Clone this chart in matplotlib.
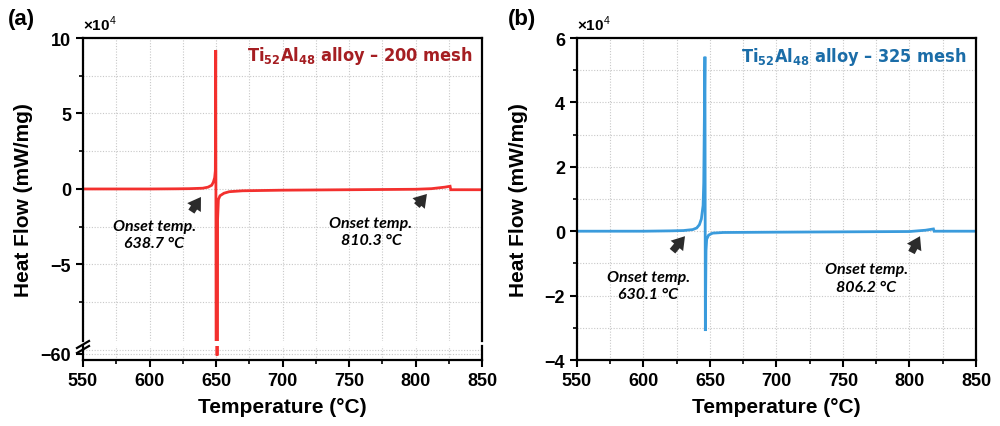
import matplotlib
matplotlib.use("Agg")
import matplotlib.pyplot as plt
from matplotlib.ticker import MultipleLocator, FixedLocator
from matplotlib.lines import Line2D
from matplotlib import font_manager as fm

# ---------------- data (heat flow in units of 1e4 mW/mg) ----------------
temp_a = [550, 580, 600, 620, 630, 640, 644, 646.8, 648.0, 649.0, 649.5, 649.8, 650.8, 651.2, 651.8,
          653, 656, 660, 670, 700, 750, 800, 812, 818, 822, 826, 826.5, 850]
flow_a = [0.0, 0.0, 0.0, 0.01, 0.02, 0.05, 0.12, 0.25, 0.45, 0.75, 1.2, 9.2, -60.2, -2.0, -0.7,
          -0.45, -0.28, -0.18, -0.12, -0.08, -0.05, -0.02, 0.02, 0.08, 0.12, 0.18, -0.05, -0.05]

temp_b = [550, 580, 600, 620, 630, 637, 640, 642, 643.5, 644.8, 645.3, 646.2, 646.5, 647.0,
          647.5, 649, 652, 660, 700, 750, 800, 812, 818, 818.5, 850]
flow_b = [0.0, 0.0, 0.0, 0.01, 0.02, 0.05, 0.1, 0.2, 0.38, 0.8, 1.5, 5.42, -3.1, -0.6,
          -0.25, -0.12, -0.06, -0.04, -0.03, -0.02, -0.01, 0.03, 0.07, 0.0, 0.0]

xticks = [550, 600, 650, 700, 750, 800, 850]
yticks_a = [10, 5, 0, -5]
yminor_a = [7.5, 2.5, -2.5, -7.5]
yticks_a_low = [-60]
title_a = r"Ti$_{\mathbf{52}}$Al$_{\mathbf{48}}$ alloy – 200 mesh"
title_b = r"Ti$_{\mathbf{52}}$Al$_{\mathbf{48}}$ alloy – 325 mesh"
onset_a = ["Onset temp.\n638.7 °C", "Onset temp.\n810.3 °C"]
onset_b = ["Onset temp.\n630.1 °C", "Onset temp.\n806.2 °C"]

# ---------------- style ----------------
cond = [f for f in fm.fontManager.ttflist if 'Condensed' in f.fname or 'Narrow' in f.fname
        or f.stretch in ('condensed', 'semi-condensed', 'extra-condensed')]
TITLE_FAMILY = 'DejaVu Sans'
TITLE_STRETCH = 'normal'
for f in cond:
    if f.weight in ('bold', 700) or 'Bold' in f.fname:
        TITLE_FAMILY = f.name
        TITLE_STRETCH = f.stretch
        break

plt.rcParams['font.family'] = ['Liberation Sans', 'DejaVu Sans']
plt.rcParams['mathtext.fontset'] = 'custom'
plt.rcParams['mathtext.rm'] = 'Liberation Sans'
plt.rcParams['mathtext.bf'] = f'{TITLE_FAMILY}:weight=bold:stretch={TITLE_STRETCH}'
plt.rcParams['axes.unicode_minus'] = True

RED = '#F3302E'
BLUE = '#3A9BDC'
RED_T = '#A51E22'
BLUE_T = '#1B6DA8'
GRID = dict(color='#c8c8c8', linestyle=(0, (1, 1.5)), linewidth=0.8)

W, H = 1000, 427
fig = plt.figure(figsize=(10, 4.27), dpi=100)

def fx(px):
    return px / W

def fy(py):
    return 1 - py / H

def style_axis(ax, size=13):
    for s in ax.spines.values():
        s.set_linewidth(1.6)
    ax.tick_params(which='major', direction='out', length=5, width=1.5, labelsize=size)
    ax.tick_params(which='minor', direction='out', length=3, width=1.2)
    for lab in ax.get_xticklabels() + ax.get_yticklabels():
        lab.set_fontweight('bold')

title_kw = dict(ha='right', va='center', fontsize=13, fontweight='bold',
                family=TITLE_FAMILY, fontstretch=TITLE_STRETCH)
onset_kw = dict(ha='center', va='center', fontsize=11.5, style='italic', fontweight='bold',
                family=['Lato', 'DejaVu Sans'], linespacing=1.3)
arrow_kw = dict(arrowstyle='simple,head_width=0.9,head_length=0.7,tail_width=0.4',
                color='#2b2b2b', lw=0, shrinkA=0, shrinkB=0, mutation_scale=13)

# ---------------- panel (a): broken axis ----------------
L, R = 83, 482
ax_top = fig.add_axes([fx(L), fy(342), fx(R - L), (342 - 39) / H])
ax_bot = fig.add_axes([fx(L), fy(361), fx(R - L), (361 - 347) / H])

for ax in (ax_top, ax_bot):
    ax.plot(temp_a, flow_a, color=RED, lw=2.0, solid_joinstyle='miter')
    ax.set_xlim(550, 850)
    ax.xaxis.set_major_locator(FixedLocator(xticks))
    ax.xaxis.set_minor_locator(MultipleLocator(25))
    ax.grid(True, which='both', **GRID)
    ax.set_axisbelow(True)

ax_top.set_ylim(-10.07, 10)
ax_top.yaxis.set_major_locator(FixedLocator(yticks_a))
ax_top.yaxis.set_minor_locator(FixedLocator(yminor_a))
ax_top.spines['bottom'].set_visible(False)
ax_top.tick_params(axis='x', which='both', bottom=False, labelbottom=False)

ax_bot.set_ylim(-60.75, -59.0)
ax_bot.yaxis.set_major_locator(FixedLocator(yticks_a_low))
ax_bot.yaxis.set_minor_locator(FixedLocator([-59.5]))
ax_bot.tick_params(axis='y', which='minor', left=False)
ax_bot.spines['top'].set_visible(False)

style_axis(ax_top)
style_axis(ax_bot)

# break marks
for dy in (0, 5):
    fig.add_artist(Line2D([fx(77), fx(89)], [fy(349 + dy), fy(342 + dy)],
                          color='black', lw=1.6, transform=fig.transFigure))

ax_top.text(0.975, 0.944, title_a, transform=ax_top.transAxes, color=RED_T, **title_kw)
ax_top.text(603.4, -3.0, onset_a[0], **onset_kw)
ax_top.text(766.5, -2.8, onset_a[1], **onset_kw)
ax_top.annotate('', xy=(638.7, -0.53), xytext=(631.5, -1.5), arrowprops=arrow_kw)
ax_top.annotate('', xy=(808.6, -0.33), xytext=(801.0, -1.1), arrowprops=arrow_kw)

fig.text(fx(L), fy(34), r"×10$^{\mathrm{4}}$", ha='left', va='bottom', fontsize=11,
         fontweight='bold')
fig.text(fx(8), fy(19), "(a)", ha='left', va='center', fontsize=16, fontweight='bold')
fig.text(fx(24), fy(200), "Heat Flow (mW/mg)", rotation=90, ha='center', va='center',
         fontsize=15, fontweight='bold')
fig.text(fx((L + R) / 2), fy(408), "Temperature (°C)", ha='center', va='center',
         fontsize=15, fontweight='bold')

# ---------------- panel (b) ----------------
L2, R2 = 577, 976
axb = fig.add_axes([fx(L2), fy(361), fx(R2 - L2), (361 - 39) / H])
axb.plot(temp_b, flow_b, color=BLUE, lw=2.0, solid_joinstyle='miter')
axb.set_xlim(550, 850)
axb.set_ylim(-4, 6)
axb.xaxis.set_major_locator(FixedLocator(xticks))
axb.xaxis.set_minor_locator(MultipleLocator(25))
axb.yaxis.set_major_locator(MultipleLocator(2))
axb.yaxis.set_minor_locator(MultipleLocator(1))
axb.grid(True, which='both', **GRID)
axb.set_axisbelow(True)
style_axis(axb)

axb.text(0.977, 0.944, title_b, transform=axb.transAxes, color=BLUE_T, **title_kw)
axb.text(603.4, -1.68, onset_b[0], **onset_kw)
axb.text(767.3, -1.45, onset_b[1], **onset_kw)
axb.annotate('', xy=(631.2, -0.155), xytext=(621.8, -0.62), arrowprops=arrow_kw)
axb.annotate('', xy=(807.9, -0.155), xytext=(801.5, -0.66), arrowprops=arrow_kw)

fig.text(fx(L2), fy(34), r"×10$^{\mathrm{4}}$", ha='left', va='bottom', fontsize=11,
         fontweight='bold')
fig.text(fx(508), fy(19), "(b)", ha='left', va='center', fontsize=16, fontweight='bold')
fig.text(fx(518), fy(200), "Heat Flow (mW/mg)", rotation=90, ha='center', va='center',
         fontsize=15, fontweight='bold')
fig.text(fx((L2 + R2) / 2), fy(408), "Temperature (°C)", ha='center', va='center',
         fontsize=15, fontweight='bold')

fig.savefig("out.png", dpi=100)
